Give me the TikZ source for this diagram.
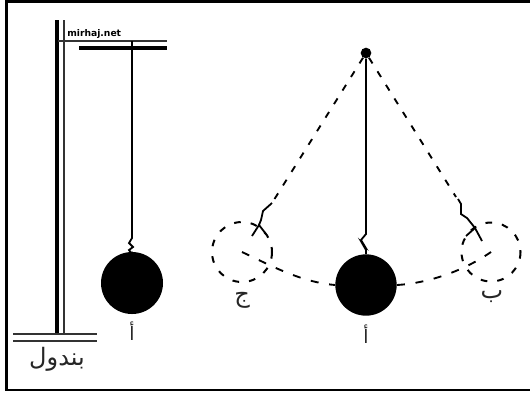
\documentclass[tikz,border=0pt]{standalone}
\usepackage{fontspec}
\setmainfont{DejaVu Sans}
\newfontfamily\arabicfont[Script=Arabic]{DejaVu Sans}
\TeXXeTstate=1
\begin{document}
\begin{tikzpicture}[x=0.75pt,y=-0.75pt,
  thinline/.style={line width=1.5pt,black!80},
  thickline/.style={line width=2.7pt,black},
  stringline/.style={line width=1.35pt,black},
  dashline/.style={line width=1.4pt,black,dash pattern=on 5pt off 7pt},
  swingline/.style={line width=1.4pt,black,dash pattern=on 6pt off 8pt},
  ringline/.style={line width=1.5pt,dash pattern=on 5pt off 7.5pt},
  bob/.style={circle,fill=black,draw=none,inner sep=0pt},
  lab/.style={inner sep=0pt,font=\arabicfont\fontsize{14}{14}\selectfont,black!85},
  biglab/.style={inner sep=0pt,font=\arabicfont\fontsize{18}{18}\selectfont,black!85}]
\useasboundingbox (0,0) rectangle (530,394);
\fill[white] (0,0) rectangle (530,394);
% frame
\draw[line width=1.9pt] (531,1.5) -- (6.5,1.5) -- (6.5,390) -- (531,390);
% stand
\draw[thickline] (57,20) -- (57,335);
\draw[thinline] (63.5,20) -- (63.5,335);
\draw[thinline] (58,41) -- (167,41);
\draw[thickline] (79,48) -- (167,48);
\draw[thinline] (13,334) -- (97,334);
\draw[thinline] (13,340.5) -- (97,340.5);
\node[inner sep=0pt,anchor=west,font=\fontsize{6.9}{6.9}\selectfont\bfseries] (site) at (67,33.5) {mirhaj.net};
\node[biglab] (title) at (57,359) {\beginR بندول\endR};
% left pendulum
\node[bob,minimum size=46.5pt] (ballA) at (132,283) {};
\coordinate (hook) at (132,41);
\draw[stringline] (hook) -- (132,238) -- (129,243) -- (133,247) -- (129,250) -- (132,254) -- (ballA.north);
\node[lab] (labA) at (132,331) {\beginR أ\endR};
% right pendulum
\node[bob,minimum size=8pt] (pivot) at (366,53) {};
\node[bob,minimum size=46pt] (ballB) at (366,285) {};
\draw[stringline] (pivot) -- (366,234) -- (361,240) -- (364,245) -- (362,243) -- (366,250) -- (ballB.north);
\node[lab] (labB) at (366,334) {\beginR أ\endR};
% swung positions
\node[circle,draw=none,minimum size=44pt,inner sep=0pt] (bobL) at (242,252) {};
\node[circle,draw=none,minimum size=44pt,inner sep=0pt] (bobR) at (491,252) {};
\draw[ringline] (bobL) circle[radius=30];
\draw[ringline] (bobR) circle[radius=29.5];
\coordinate (tipL) at (259,225);
\coordinate (tipR) at (475,228);
\draw[dashline] (pivot) -- (272,203);
\draw[dashline] (pivot) -- (456,197);
\draw[stringline] (272,203) -- (263,211) -- (261,220) -- (tipL);
\draw[stringline] (252,236) -- (tipL) -- (266,234);
\draw[stringline] (458,199) -- (461,204) -- (461,214) -- (467,218) -- (tipR);
\draw[stringline] (466,236) -- (tipR);
\draw[stringline] (tipR) -- (482,241);
% swing arc
\draw[swingline] (bobL.center) .. controls (270,265) and (300,282) .. (ballB.west);
\draw[swingline] (ballB.east) .. controls (430,283) and (465,270) .. (bobR.center);
\node[biglab] (labJ) at (242,300) {\beginR ج\endR};
\node[biglab] (labP) at (492,297) {\beginR ب\endR};
\end{tikzpicture}
\end{document}
